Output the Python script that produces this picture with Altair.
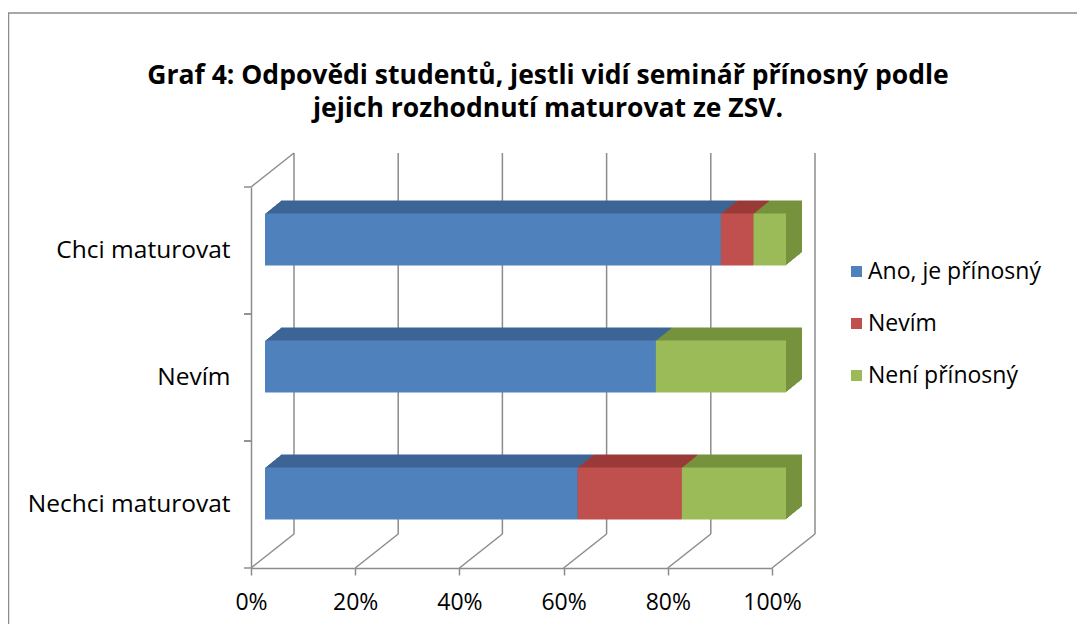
import altair as alt
import pandas as pd

categories = ["Chci maturovat", "Nevím", "Nechci maturovat"]
responses = ["Ano, je přínosný", "Nevím", "Není přínosný"]
ano = [87.5, 75.0, 60.0]
nevim = [6.25, 0.0, 20.0]
neni = [6.25, 25.0, 20.0]
front_colors = ["#4F81BD", "#C0504D", "#9BBB59"]
top_colors = ["#3C6595", "#9A3B38", "#76923C"]
tick_values = [0, 0.2, 0.4, 0.6, 0.8, 1.0]
title_lines = ["Graf 4: Odpovědi studentů, jestli vidí seminář přínosný podle",
               "jejich rozhodnutí maturovat ze ZSV."]

rows = []
for ci, c in enumerate(categories):
    for ri, (r, vals) in enumerate(zip(responses, [ano, nevim, neni])):
        rows.append({"cat": c, "resp": r, "idx": ri, "share": vals[ci] / 100.0,
                     "top": top_colors[ri]})
df = pd.DataFrame(rows)
ticks_df = pd.DataFrame({"p": tick_values})
cats_df = pd.DataFrame({"cat": categories})

W, H = 521, 381
DX, DY = 43, -34          # depth of the back wall
BX, BY = 14, -11          # front face of bars
EX, EY = 16, -13          # bar extrusion
GRID = "#8C8C8C"
FONT = "Open Sans"

xscale = alt.Scale(domain=[0, 1], nice=False, zero=True)
yscale = alt.Scale(domain=categories, paddingInner=0, paddingOuter=0)

x_axis = alt.Axis(
    values=tick_values, format=".0%", title=None, grid=False,
    labelFlush=False, labelOverlap=False,
    tickSize=7, tickColor=GRID, tickWidth=1.5, domainColor=GRID, domainWidth=1.5,
    labelFont=FONT, labelFontSize=23, labelColor="#000000", labelPadding=16)
y_axis = alt.Axis(
    title=None, ticks=False, grid=False, domainColor=GRID, domainWidth=1.5,
    labelFont=FONT, labelFontSize=24.5, labelColor="#000000", labelPadding=21, labelLimit=400)

# frame
frame = alt.Chart(cats_df).transform_filter(alt.datum.cat == categories[0]).mark_rect(
    fillOpacity=0, stroke=GRID, strokeWidth=1.5
).encode(x=alt.value(-242.5), x2=alt.value(900), y=alt.value(-174), y2=alt.value(600))

# back wall gridlines
wall = alt.Chart(ticks_df).mark_rule(color=GRID, strokeWidth=1.5, xOffset=DX).encode(
    x=alt.X("p:Q", scale=xscale, axis=x_axis),
    y=alt.value(DY), y2=alt.value(H + DY))

floor = alt.Chart(ticks_df).mark_rule(color=GRID, strokeWidth=1.5, xOffset=DX, x2Offset=0).encode(
    x=alt.X("p:Q", scale=xscale, axis=x_axis), x2=alt.X2("p"),
    y=alt.value(H + DY), y2=alt.value(H))

side = alt.Chart(ticks_df).transform_filter(alt.datum.p == 0).mark_rule(
    color=GRID, strokeWidth=1.5, xOffset=0, x2Offset=DX).encode(
    x=alt.X("p:Q", scale=xscale, axis=x_axis), x2=alt.X2("p"),
    y=alt.value(0), y2=alt.value(DY))

ytick0 = alt.Chart(cats_df).mark_rule(color=GRID, strokeWidth=1.5).encode(
    y=alt.Y("cat:N", bandPosition=0, scale=yscale, axis=y_axis),
    x=alt.value(-7), x2=alt.value(0))
ytick1 = alt.Chart(cats_df).mark_rule(color=GRID, strokeWidth=1.5).encode(
    y=alt.Y("cat:N", bandPosition=1, scale=yscale, axis=y_axis),
    x=alt.value(-7), x2=alt.value(0))

layers = [frame, wall, floor, side, ytick0, ytick1]

STEPS = 16
for k in range(STEPS, 0, -1):
    ox = BX + EX * k / STEPS
    oy = BY + EY * k / STEPS
    layers.append(alt.Chart(df).mark_bar(
        size=52, xOffset=ox, x2Offset=ox, yOffset=oy, y2Offset=oy).encode(
        x=alt.X("share:Q", stack="zero", scale=xscale, axis=x_axis),
        y=alt.Y("cat:N", scale=yscale, axis=y_axis),
        order=alt.Order("idx:Q"),
        color=alt.Color("top:N", scale=None)))

front = alt.Chart(df).mark_bar(size=52, xOffset=BX, x2Offset=BX, yOffset=BY, y2Offset=BY).encode(
    x=alt.X("share:Q", stack="zero", scale=xscale, axis=x_axis),
    y=alt.Y("cat:N", scale=yscale, axis=y_axis),
    order=alt.Order("idx:Q"),
    color=alt.Color("resp:N", scale=alt.Scale(domain=responses, range=front_colors),
                    legend=alt.Legend(orient="none", legendX=594, legendY=73, title=None,
                                      symbolType="square", symbolSize=121, symbolStrokeWidth=0,
                                      labelFont=FONT, labelFontSize=23, labelColor="#000000",
                                      labelOffset=0, rowPadding=28, labelLimit=300)))
layers.append(front)

t1 = alt.Chart(pd.DataFrame({"t": [title_lines[0]]})).mark_text(
    font=FONT, fontSize=26.5, fontWeight="bold", align="center", baseline="middle", color="#000000"
).encode(text="t:N", x=alt.value(297), y=alt.value(-111))
t2 = alt.Chart(pd.DataFrame({"t": [title_lines[1]]})).mark_text(
    font=FONT, fontSize=26.5, fontWeight="bold", align="center", baseline="middle", color="#000000"
).encode(text="t:N", x=alt.value(297), y=alt.value(-78))
layers += [t1, t2]

chart = alt.layer(*layers).resolve_scale(color="independent").properties(
    width=W, height=H,
    padding={"left": 243, "top": 179, "right": 305, "bottom": 56},
    autosize=alt.AutoSizeParams(type="none"),
    background="white",
).configure_view(stroke=None)

chart.save("out.html", embed_options={"renderer": "svg", "actions": False})
